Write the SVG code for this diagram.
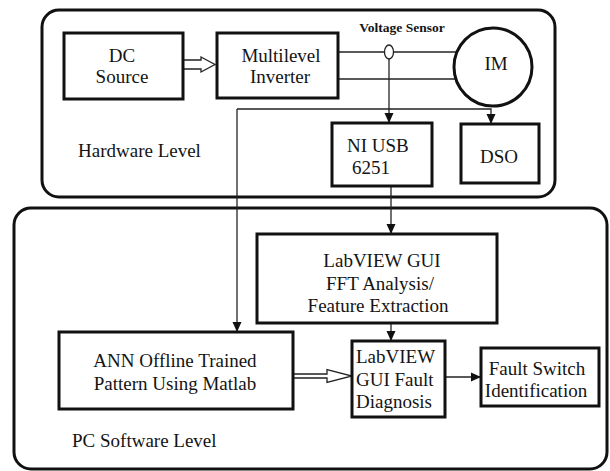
<svg xmlns="http://www.w3.org/2000/svg" width="610" height="471" viewBox="0 0 610 471" font-family="'Liberation Serif', 'DejaVu Serif', serif">
  <defs>
    <marker id="arrow" markerUnits="userSpaceOnUse" markerWidth="10" markerHeight="10" refX="10" refY="5" orient="auto">
      <path d="M0,0.5 L10,5 L0,9.5 z" fill="#111"/>
    </marker>
    <style>
      .frame { fill: none; stroke: #111; stroke-width: 3; }
      .box { fill: #fff; stroke: #111; stroke-width: 3; }
      .wire { fill: none; stroke: #222; stroke-width: 1.3; }
      .hollow { fill: #fff; stroke: #222; stroke-width: 1.3; stroke-linejoin: miter; }
      text { font-family: 'Liberation Serif', 'DejaVu Serif', serif; font-size: 19px; fill: #141414; }
      .mid { text-anchor: middle; }
      .small { font-size: 13.5px; font-weight: bold; }
    </style>
  </defs>

  <rect width="610" height="471" fill="#fff"/>

  <!-- level frames -->
  <g id="hardware-level">
    <rect class="frame" x="42" y="10" width="513" height="187" rx="17"/>
    <text x="78" y="157">Hardware Level</text>
  </g>
  <g id="pc-software-level">
    <rect class="frame" x="14" y="208" width="593" height="261" rx="17"/>
    <text x="72" y="447">PC Software Level</text>
  </g>

  <!-- connectors -->
  <g id="connectors">
    <path class="hollow" d="M183,60 H201 V57 L215,64.5 L201,72 V69 H183"/>
    <line class="wire" x1="338" y1="52" x2="457" y2="52"/>
    <line class="wire" x1="338" y1="79" x2="456" y2="79"/>
    <line class="wire" x1="389" y1="59" x2="389" y2="123" marker-end="url(#arrow)"/>
    <path class="wire" d="M237,109 H491 V124" marker-end="url(#arrow)"/>
    <line class="wire" x1="237" y1="109" x2="237" y2="332" marker-end="url(#arrow)"/>
    <line class="wire" x1="391" y1="186" x2="391" y2="234" marker-end="url(#arrow)"/>
    <line class="wire" x1="391" y1="323" x2="391" y2="341" marker-end="url(#arrow)"/>
    <line class="wire" x1="445" y1="377" x2="481" y2="377" marker-end="url(#arrow)"/>
    <path class="hollow" d="M293,374 H327 V369.5 L352,376 L327,382.5 V378 H293"/>
    <ellipse id="voltage-sensor" cx="389" cy="52" rx="4.5" ry="7" fill="#fff" stroke="#222" stroke-width="1.3"/>
    <text class="small mid" x="402" y="32">Voltage Sensor</text>
  </g>

  <!-- hardware nodes -->
  <g id="dc-source">
    <rect class="box" x="64" y="33" width="119" height="66"/>
    <text class="mid" x="122" y="62">DC</text>
    <text class="mid" x="122" y="83">Source</text>
  </g>
  <g id="multilevel-inverter">
    <rect class="box" x="217" y="33" width="121" height="65"/>
    <text class="mid" x="281" y="62">Multilevel</text>
    <text class="mid" x="280" y="83">Inverter</text>
  </g>
  <g id="im">
    <circle class="box" cx="493" cy="67" r="39"/>
    <text class="mid" x="496" y="70">IM</text>
  </g>
  <g id="ni-usb">
    <rect class="box" x="332" y="123" width="100" height="63"/>
    <text x="347" y="152">NI USB</text>
    <text x="352" y="174">6251</text>
  </g>
  <g id="dso">
    <rect class="box" x="461" y="124" width="78" height="59"/>
    <text class="mid" x="499" y="163">DSO</text>
  </g>

  <!-- software nodes -->
  <g id="fft-analysis">
    <rect class="box" x="257" y="234" width="240" height="89"/>
    <text class="mid" x="382" y="267">LabVIEW GUI</text>
    <text class="mid" x="380" y="290">FFT Analysis/</text>
    <text class="mid" x="378" y="312">Feature Extraction</text>
  </g>
  <g id="ann-pattern">
    <rect class="box" x="59" y="332" width="234" height="77"/>
    <text class="mid" x="175" y="367">ANN Offline Trained</text>
    <text class="mid" x="175" y="390">Pattern Using Matlab</text>
  </g>
  <g id="fault-diagnosis">
    <rect class="box" x="352" y="341" width="93" height="76"/>
    <text x="356" y="363">LabVIEW</text>
    <text x="356" y="386">GUI Fault</text>
    <text x="356" y="408">Diagnosis</text>
  </g>
  <g id="fault-switch">
    <rect class="box" x="481" y="348" width="118" height="58"/>
    <text class="mid" x="537" y="375">Fault Switch</text>
    <text class="mid" x="536" y="397">Identification</text>
  </g>
</svg>
